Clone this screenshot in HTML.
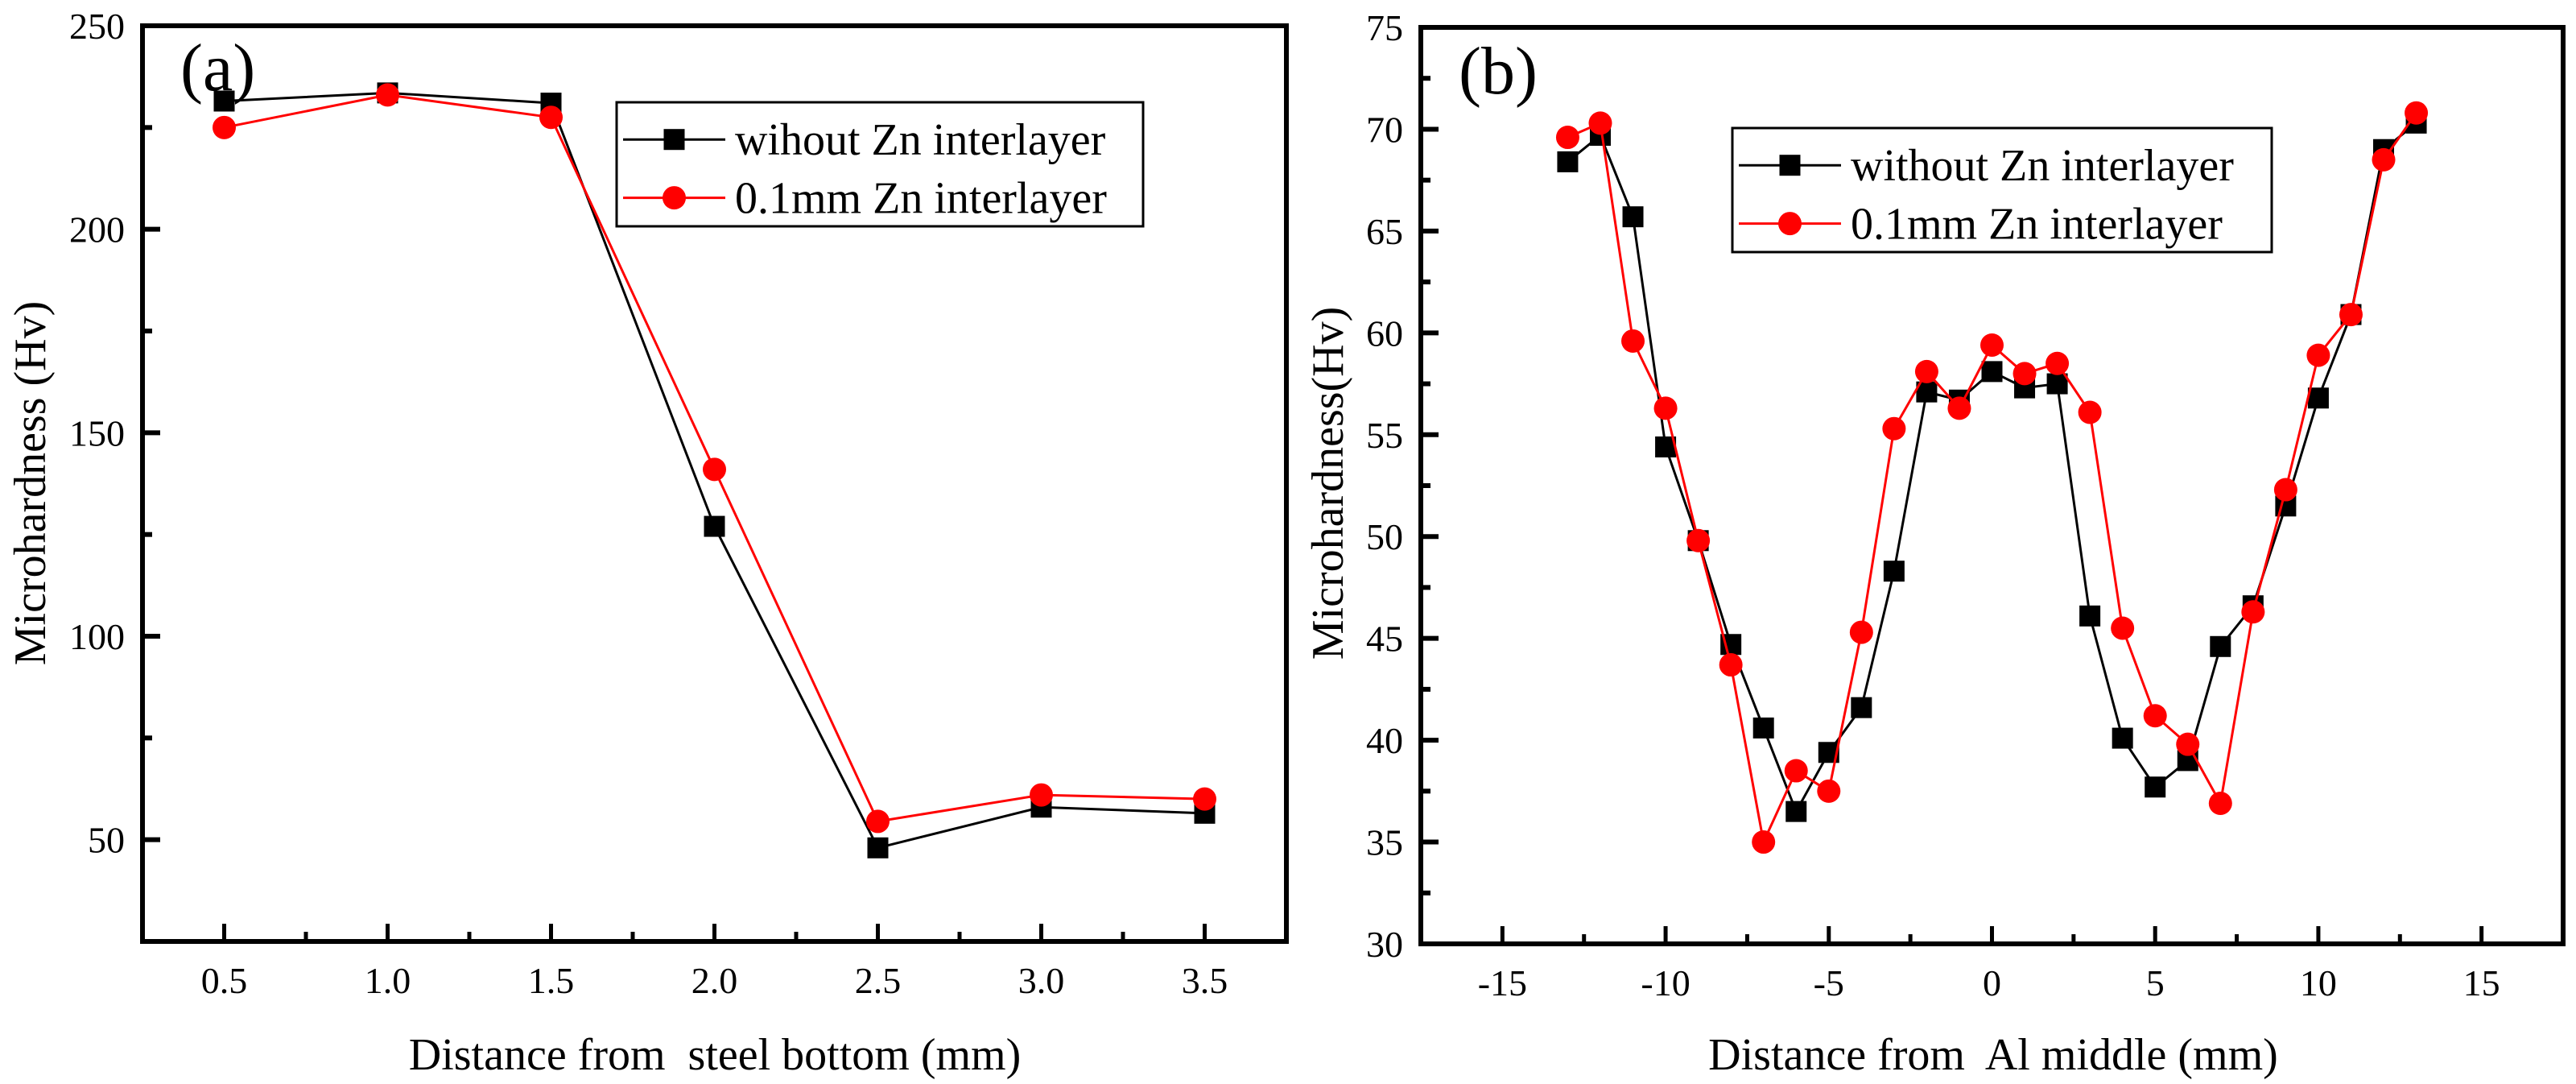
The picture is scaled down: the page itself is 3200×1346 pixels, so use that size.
<!DOCTYPE html>
<html><head><meta charset="utf-8"><style>
html,body{margin:0;padding:0;background:#fff;}
svg{display:block;font-family:"Liberation Serif","Times New Roman",serif;}
svg text{font-family:"Liberation Serif","Times New Roman",serif;white-space:pre;}
</style></head><body>
<svg id="chart" width="3200" height="1346" viewBox="0 0 3200 1346" xmlns="http://www.w3.org/2000/svg"></svg>
<script>
const aX=[0.5,1.0,1.5,2.0,2.5,3.0,3.5];
const aBlack=[231.5,233.5,231,127,48,58,56.5];
const aRed=[225,233,227.5,141,54.5,61,60];
const aXTicks=["0.5","1.0","1.5","2.0","2.5","3.0","3.5"];
const aYTicks=[50,100,150,200,250];
const bX=[-13,-12,-11,-10,-9,-8,-7,-6,-5,-4,-3,-2,-1,0,1,2,3,4,5,6,7,8,9,10,11,12,13];
const bBlack=[68.4,69.7,65.7,54.4,49.8,44.7,40.6,36.5,39.4,41.6,48.3,57.1,56.7,58.1,57.3,57.5,46.1,40.1,37.7,39.0,44.6,46.6,51.5,56.8,60.9,69.0,70.3];
const bRed=[69.6,70.3,59.6,56.3,49.8,43.7,35.0,38.5,37.5,45.3,55.3,58.1,56.3,59.4,58.0,58.5,56.1,45.5,41.2,39.8,36.9,46.3,52.3,58.9,60.9,68.5,70.8];
const bXTicks=[-15,-10,-5,0,5,10,15];
const bYTicks=[30,35,40,45,50,55,60,65,70,75];

const svg=document.getElementById('chart');
const NS='http://www.w3.org/2000/svg';
const FF='Liberation Serif, Times New Roman, serif';
function mk(tag,attrs,parent){const e=document.createElementNS(NS,tag);for(const k in attrs)e.setAttribute(k,attrs[k]);if(tag==='text'){e.setAttribute('font-family',FF);e.setAttribute('xml:space','preserve');}(parent||svg).appendChild(e);return e;}

function panel(p){
  const g=mk('g',{});
  
  
  const sx=v=>p.L+(v-p.x0)/(p.x1-p.x0)*(p.R-p.L);
  const sy=v=>p.B-(v-p.y0)/(p.y1-p.y0)*(p.B-p.T);
  for(let v=p.y0;v<=p.y1+1e-9;v+=p.yMinor){
    const major=Math.abs(v/p.yMajor-Math.round(v/p.yMajor))<1e-6;
    const len=major?22:12;const y=sy(v);
    const t=mk('line',{x1:p.L,x2:p.L+len,y1:y,y2:y,stroke:'#000','stroke-width':6},g);
    
  }
  for(let v=p.xStart;v<=p.x1+1e-9;v+=p.xMinor){
    const major=Math.abs((v-p.xStart)/p.xMajor-Math.round((v-p.xStart)/p.xMajor))<1e-6;
    const len=major?22:12;const x=sx(v);
    const t=mk('line',{x1:x,x2:x,y1:p.B,y2:p.B-len,stroke:'#000','stroke-width':5},g);
    
  }
  p.yTicks.forEach(v=>{
    const t=mk('text',{x:p.L-22,y:sy(v)+16,'text-anchor':'end','font-size':46},g);
    t.textContent=v;
    
  });
  p.xTicks.forEach(v=>{
    const t=mk('text',{x:sx(parseFloat(v)),y:p.B+64,'text-anchor':'middle','font-size':46},g);
    t.textContent=v;
    
  });
  const series=[{v:p.black,c:'#000',m:'sq',n:'series-without-zn'},{v:p.red,c:'#f00',m:'ci',n:'series-zn-interlayer'}];
  series.forEach(s=>{
    const pts=p.xs.map((x,i)=>sx(x)+','+sy(s.v[i])).join(' ');
    const l=mk('polyline',{points:pts,fill:'none',stroke:s.c,'stroke-width':3},g);
    
    p.xs.forEach((x,i)=>{
      let m;
      if(s.m==='sq') m=mk('rect',{x:sx(x)-13,y:sy(s.v[i])-13,width:26,height:26,fill:s.c},g);
      else m=mk('circle',{cx:sx(x),cy:sy(s.v[i]),r:14.5,fill:s.c},g);
      
    });
  });
  const fr=mk('rect',{x:p.L,y:p.T,width:p.R-p.L,height:p.B-p.T,fill:'none',stroke:'#000','stroke-width':6},g);
  
  const pl=mk('text',{x:p.labX,y:p.labY,'font-size':84},g);pl.textContent=p.letter;
  
  const xt=mk('text',{x:p.xtX,y:1328,'text-anchor':'middle','font-size':56},g);xt.textContent=p.xTitle;
  
  const yt=mk('text',{x:0,y:0,'text-anchor':'middle','font-size':56,transform:`translate(${p.ytX},600) rotate(-90)`},g);yt.textContent=p.yTitle;
  
  const lg=mk('g',{},g);
  
  mk('rect',{x:p.lg[0],y:p.lg[1],width:p.lg[2]-p.lg[0],height:p.lg[3]-p.lg[1],fill:'#fff',stroke:'#000','stroke-width':3},lg);
  const h=(p.lg[3]-p.lg[1]);
  [[p.lt1,'#000','sq',0.3],[p.lt2,'#f00','ci',0.77]].forEach(([txt,c,m,f])=>{
    const y=p.lg[1]+h*f;const x0=p.lg[0]+8,x1=p.lg[0]+135;
    const e=mk('g',{},lg);
    
    mk('line',{x1:x0,x2:x1,y1:y,y2:y,stroke:c,'stroke-width':3},e);
    if(m==='sq')mk('rect',{x:(x0+x1)/2-13,y:y-13,width:26,height:26,fill:c},e);
    else mk('circle',{cx:(x0+x1)/2,cy:y,r:14.5,fill:c},e);
    const t=mk('text',{x:x1+12,y:y+19,'font-size':56},e);t.textContent=txt;
  });
}

panel({name:'panel-a',L:177,R:1598,T:32,B:1169,x0:0.25,x1:3.75,y0:25,y1:250,
  xStart:0.5,xMajor:0.5,xMinor:0.25,yMajor:50,yMinor:25,
  xs:aX,black:aBlack,red:aRed,xTicks:aXTicks,yTicks:aYTicks,
  letter:'(a)',labX:224,labY:112,xTitle:'Distance from  steel bottom (mm)',xtX:888,ytX:56,
  yTitle:'Microhardness (Hv)',lg:[766,127,1420,281],lt1:'wihout Zn interlayer',lt2:'0.1mm Zn interlayer'});
panel({name:'panel-b',L:1765,R:3184,T:34,B:1172,x0:-17.5,x1:17.5,y0:30,y1:75,
  xStart:-15,xMajor:5,xMinor:2.5,yMajor:5,yMinor:2.5,
  xs:bX,black:bBlack,red:bRed,xTicks:bXTicks.map(String),yTicks:bYTicks,
  letter:'(b)',labX:1812,labY:116,xTitle:'Distance from  Al middle (mm)',xtX:2476,ytX:1668,
  yTitle:'Microhardness(Hv)',lg:[2152,159,2822,313],lt1:'without Zn interlayer',lt2:'0.1mm Zn interlayer'});
</script>
</body></html>
